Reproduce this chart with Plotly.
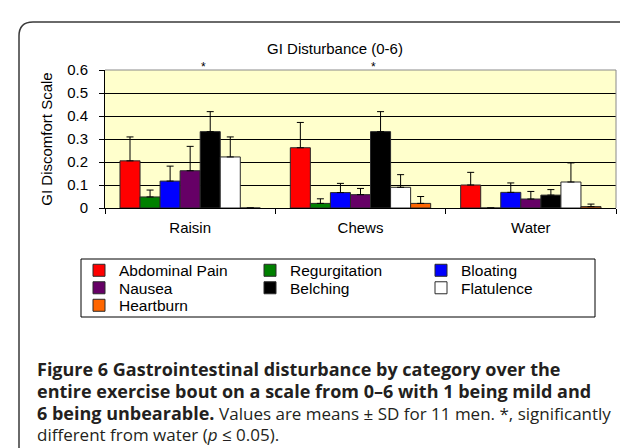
import plotly.graph_objects as go

# ---------------- data ----------------
categories = ["Raisin", "Chews", "Water"]
series_names = ["Abdominal Pain", "Regurgitation", "Bloating", "Nausea",
                "Belching", "Flatulence", "Heartburn"]

abdominal_pain = [0.205, 0.262, 0.100]
abdominal_pain_sd = [0.104, 0.110, 0.055]
regurgitation = [0.048, 0.020, 0.000]
regurgitation_sd = [0.030, 0.020, 0.000]
bloating = [0.117, 0.067, 0.068]
bloating_sd = [0.065, 0.040, 0.041]
nausea = [0.162, 0.058, 0.039]
nausea_sd = [0.106, 0.027, 0.033]
belching = [0.332, 0.332, 0.056]
belching_sd = [0.087, 0.087, 0.024]
flatulence = [0.222, 0.090, 0.113]
flatulence_sd = [0.087, 0.055, 0.083]
heartburn = [0.000, 0.020, 0.006]
heartburn_sd = [0.000, 0.030, 0.011]

significant_categories = ["Raisin", "Chews"]

y_tick_values = [0, 0.1, 0.2, 0.3, 0.4, 0.5, 0.6]
y_tick_labels = ["0", "0.1", "0.2", "0.3", "0.4", "0.5", "0.6"]

chart_title = "GI Disturbance (0-6)"
y_title = "GI Discomfort Scale"
REG = '<span style="font-weight:normal;font-size:17px">'
caption_lines = [
    "<b>Figure 6 Gastrointestinal disturbance by category over the</b>",
    "<b>entire exercise bout on a scale from 0–6 with 1 being mild and</b>",
    "<b>6 being unbearable.</b> " + REG + "Values are means ± SD for 11 men. *, significantly</span>",
    REG + "different from water (<i>p</i> ≤ 0.05).</span>",
]

# ---------------- styles ----------------
colors = ["#FF0000", "#008000", "#0000FF", "#660066", "#000000", "#FFFFFF", "#FF6600"]
legend_rows = ["legend", "legend", "legend", "legend2", "legend2", "legend2", "legend3"]
FONT = "Arial, Liberation Sans, sans-serif"
CAP_FONT = "Open Sans, Noto Sans, sans-serif"

W, H = 628, 448
PL, PR, PT, PB = 97, 608, 62, 200


def px_x(px):
    return (px - PL) / (PR - PL)


def px_y(py):
    return (PB - py) / (PB - PT)


values = [abdominal_pain, regurgitation, bloating, nausea, belching, flatulence, heartburn]
sds = [abdominal_pain_sd, regurgitation_sd, bloating_sd, nausea_sd, belching_sd,
       flatulence_sd, heartburn_sd]

fig = go.Figure()
for name, vals, sd, col, lg in zip(series_names, values, sds, colors, legend_rows):
    fig.add_trace(go.Bar(
        x=categories, y=vals, name=name, legend=lg,
        marker=dict(color=col, line=dict(color="#2a2a2a", width=1)),
        error_y=dict(type="data", array=sd, arrayminus=[0] * len(sd), symmetric=False,
                     color="#000000", thickness=1, width=3.5),
    ))

# outer rounded frame
L, T, R, B, rad = 11, 14, 640, 480, 14
path = (f"M {px_x(L)},{px_y(B)} L {px_x(L)},{px_y(T + rad)} "
        f"Q {px_x(L)},{px_y(T)} {px_x(L + rad)},{px_y(T)} "
        f"L {px_x(R - rad)},{px_y(T)} Q {px_x(R)},{px_y(T)} {px_x(R)},{px_y(T + rad)} "
        f"L {px_x(R)},{px_y(B)}")
shapes = [
    dict(type="path", path=path, xref="paper", yref="paper",
         line=dict(color="#3a3a3a", width=1.5), layer="above"),
    dict(type="line", xref="paper", yref="paper", x0=0, x1=1, y0=1, y1=1,
         line=dict(color="#8a8a8a", width=1), layer="above"),
    dict(type="line", xref="paper", yref="paper", x0=1, x1=1, y0=0, y1=1,
         line=dict(color="#8a8a8a", width=1), layer="above"),
    # legend frame
    dict(type="rect", xref="paper", yref="paper", x0=px_x(73), x1=px_x(587),
         y0=px_y(251), y1=px_y(309), line=dict(color="#000", width=1), layer="above"),
]

annotations = []
for c in significant_categories:
    annotations.append(dict(x=c, xref="x", y=1, yref="paper", text="*", showarrow=False,
                            xshift=13, yanchor="bottom", yshift=-6,
                            font=dict(family=FONT, size=12, color="#000")))

cap_y = [361, 383, 405, 427]
for line, cy in zip(caption_lines, cap_y):
    annotations.append(dict(x=px_x(27), xref="paper", xanchor="left",
                            y=px_y(cy), yref="paper", yanchor="middle",
                            text=line, showarrow=False, align="left",
                            font=dict(family=CAP_FONT, size=18, color="#231f20")))


def legend_row(center_py):
    return dict(orientation="h", x=px_x(71), xanchor="left", y=px_y(center_py), yanchor="middle",
                entrywidth=126, entrywidthmode="pixels",
                borderwidth=0, bgcolor="rgba(0,0,0,0)",
                font=dict(family=FONT, size=15.5, color="#000"), traceorder="normal")


fig.update_layout(
    width=W, height=H,
    margin=dict(l=PL, r=W - PR, t=PT, b=H - PB, autoexpand=False),
    paper_bgcolor="#FFFFFF",
    plot_bgcolor="#FFFFCC",
    barmode="group", bargap=0.176, bargroupgap=0,
    font=dict(family=FONT, size=15, color="#000"),
    title=dict(text=chart_title, x=327 / W, xanchor="center", xref="container",
               y=1 - 41 / H, yanchor="middle", font=dict(family=FONT, size=15, color="#000")),
    xaxis=dict(type="category", showline=True, linecolor="#000", linewidth=1,
               ticks="outside", ticklen=5, tickcolor="#000", tickson="boundaries",
               ticklabelstandoff=6, tickfont=dict(family=FONT, size=15, color="#000"),
               showgrid=False),
    yaxis=dict(range=[0, 0.6], tickvals=y_tick_values, ticktext=y_tick_labels,
               showline=True, linecolor="#000", linewidth=1,
               ticks="outside", ticklen=5, tickcolor="#000",
               ticklabelstandoff=8, tickfont=dict(family=FONT, size=15, color="#000"),
               showgrid=True, gridcolor="#000", gridwidth=1, zeroline=False,
               title=dict(text=y_title, standoff=10, font=dict(family=FONT, size=15, color="#000"))),
    legend=legend_row(262.7),
    legend2=legend_row(280.2),
    legend3=legend_row(297.7),
    shapes=shapes,
    annotations=annotations,
    showlegend=True,
)

fig.write_html("out.html")
